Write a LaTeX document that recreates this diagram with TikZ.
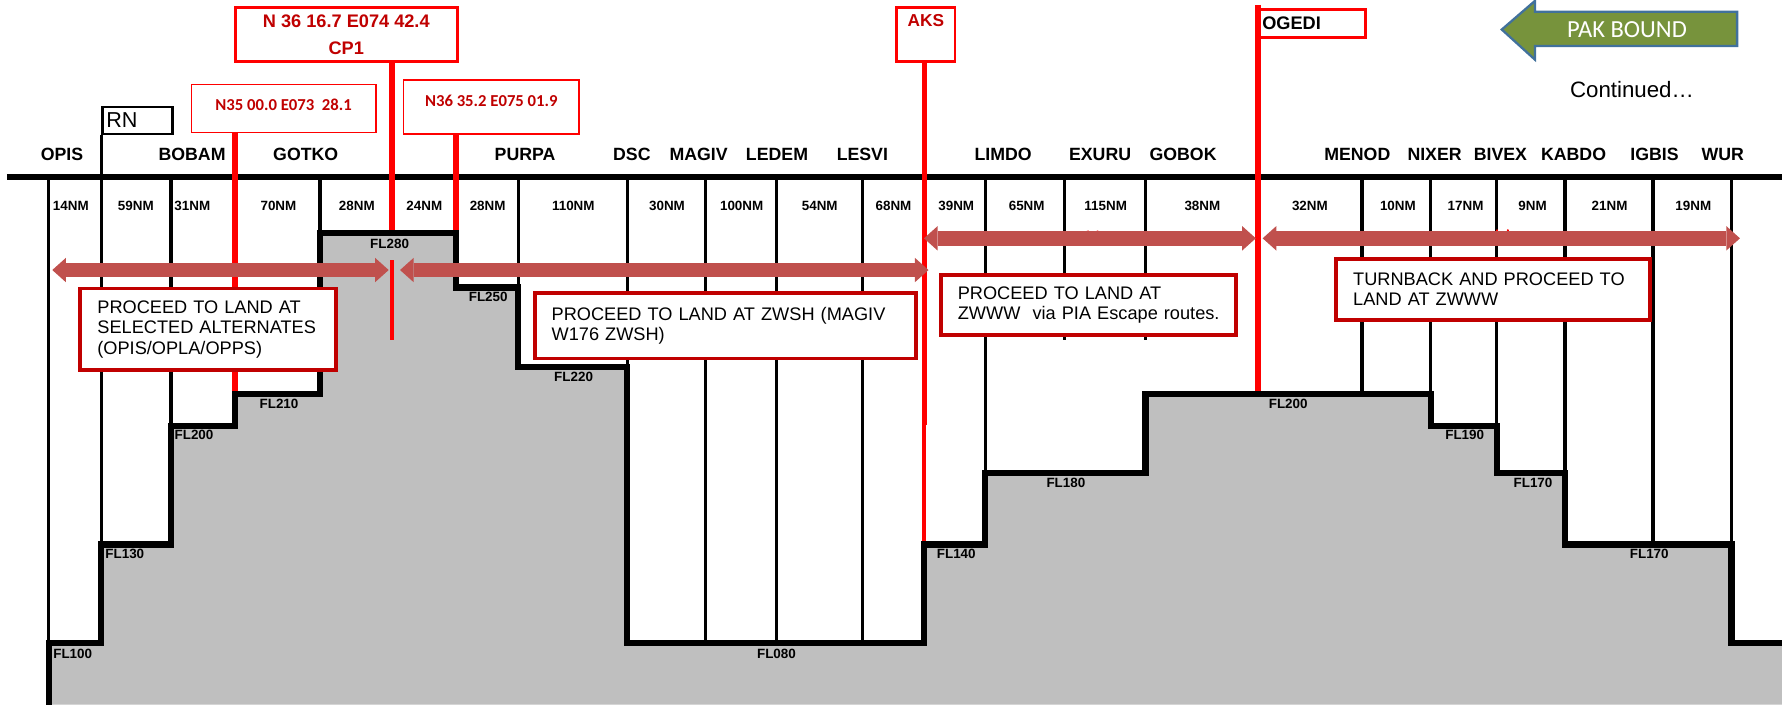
\documentclass[tikz,border=0pt]{standalone}
\usepackage{fontspec}
\setmainfont{Liberation Sans}
\newfontfamily\calibri{Carlito}
\usepackage{xcolor}
\usepackage{tikz}
\usetikzlibrary{arrows.meta}
\definecolor{terrain}{HTML}{BFBFBF}
\definecolor{routered}{HTML}{C0504D}
\definecolor{darkred}{HTML}{C00000}
\definecolor{pakgreen}{HTML}{77933C}
\definecolor{pakblue}{HTML}{41719C}
\tikzstyle{route} = [line width=6.5pt, color=routered, <->, >={Triangle[width=10.75pt,length=6pt,line width=0pt]}]

\begin{document}
\begin{tikzpicture}[x=0.5pt, y=-0.5pt]
    \tikzstyle{wpt} = [font=\fontsize{7.8}{9}\selectfont\bfseries]
    \tikzstyle{dist} = [font=\fontsize{5.9}{7}\selectfont\bfseries]
    \tikzstyle{fl} = [font=\fontsize{5.9}{7}\selectfont\bfseries]
    \tikzstyle{leg} = [line width=1.4pt]
    \tikzstyle{profile} = [line width=2.75pt, line join=miter]
    \tikzstyle{fix} = [red, line width=2.5pt]
    \tikzstyle{fixbox} = [rectangle, draw=red, line width=1.2pt, fill=white, text=darkred, align=center, font=\fontsize{8}{11.7}\selectfont\bfseries]
    \tikzstyle{msg} = [rectangle, draw=darkred, line width=1.7pt, fill=white, anchor=north west, align=left, inner xsep=7.5pt, font=\fontsize{8}{8.9}\selectfont]

    \useasboundingbox (0,0) rectangle (1568,620);

    \fill[terrain] (43,620) -- (43,566) -- (89,566) -- (89,479) -- (150.5,479) -- (150.5,375) -- (206.5,375) -- (206.5,347) -- (281.5,347) -- (281.5,205) -- (401,205) -- (401,253) -- (456,253) -- (456,323) -- (552,323) -- (552,566) -- (813,566) -- (813,479) -- (867,479) -- (867,416) -- (1008,416) -- (1008,347) -- (1259,347) -- (1259,375) -- (1317,375) -- (1317,416) -- (1377,416) -- (1377,479) -- (1523.5,479) -- (1523.5,566) -- (1568,566) -- (1568,620) -- cycle;

    \node[fixbox, minimum width=97.7pt, minimum height=23.9pt] (cp1box) at (304.7,30.4) {N 36 16.7 E074 42.4\\CP1};
    \node[fixbox, line width=0.7pt, font=\calibri\bfseries\fontsize{7.35}{9}\selectfont, minimum width=81.1pt, minimum height=21.25pt, text depth=3.1pt] (n35box) at (249.5,95.5) {N35 00.0 E073~ 28.1};
    \node[fixbox, line width=0.7pt, font=\calibri\bfseries\fontsize{7.35}{9}\selectfont, minimum width=77.1pt, minimum height=23.75pt, text depth=5.6pt] (n36box) at (432.3,94.2) {N36 35.2 E075 01.9};
    \node[fixbox, font=\fontsize{7.6}{9}\selectfont\bfseries, minimum width=25.6pt, minimum height=23.9pt, inner ysep=1pt, text depth=12.8pt] (aksbox) at (814.7,30.4) {AKS};
    \node[fixbox, text=black, align=left, anchor=north west, text width=44pt, inner xsep=1.35pt, inner ysep=0pt, minimum height=12.2pt] (ogedibox) at (1106.8,7.3) {OGEDI};
    \node[rectangle, draw, line width=1pt, anchor=north west, align=left, text width=27.4pt, inner xsep=1.7pt, inner ysep=0pt, minimum height=11.7pt, font=\fontsize{9.5}{10}\selectfont] (rn) at (89.2,93.3) {RN};

    \coordinate (bobamfix) at (206.5,347);
    \coordinate (cp1fix) at (345,205);
    \coordinate (purpafix) at (401,205);
    \coordinate (aksfix) at (813.4,479);
    \coordinate (ogedifix) at (1106.8,347);

    \draw[leg] (43,156) -- (43,566);
    \draw[leg] (rn.south west) -- (89.2,479);
    \draw[leg] (150.5,156) -- (150.5,375);
    \draw[leg] (281.5,156) -- (281.5,205);
    \draw[leg] (456,156) -- (456,253);
    \draw[leg] (552,156) -- (552,323);
    \draw[leg] (620.5,156) -- (620.5,566);
    \draw[leg] (683,156) -- (683,566);
    \draw[leg] (759,156) -- (759,566);
    \draw[leg] (867,156) -- (867,416);
    \draw[leg] (937,156) -- (937,299);
    \draw[leg] (1008,156) -- (1008,299);
    \draw[leg] (1198.5,156) -- (1198.5,347);
    \draw[leg] (1259,156) -- (1259,347);
    \draw[leg] (1317,156) -- (1317,375);
    \draw[leg] (1377,156) -- (1377,416);
    \draw[leg] (1454.5,156) -- (1454.5,479);
    \draw[leg] (1523.5,156) -- (1523.5,479);

    \draw[line width=2.6pt] (6,156) -- (1568,156);

    \draw[fix] (bobamfix |- n35box.south) -- (bobamfix);
    \draw[fix] (cp1fix |- cp1box.south) -- (cp1fix);
    \draw[fix] (purpafix |- n36box.south) -- (purpafix);
    \draw[fix] (aksfix |- aksbox.south) -- (813.4,374);
    \draw[red, line width=1.8pt] (813.4,374) -- (aksfix);
    \draw[fix] ([yshift=1.5pt]ogedibox.north west) -- (ogedifix);
    \draw[red, line width=1.7pt] (345,229) -- (345,299);
    \draw[red, line width=0.8pt] (957,203) -- (958,207) (966,203) -- (965,207);
    \draw[red, line width=0.8pt] (1317,202) -- (1318,206) (1327,202) -- (1326,206);

    \draw[profile] (43,620) -- (43,566) -- (89,566) -- (89,479) -- (150.5,479) -- (150.5,375) -- (206.5,375) -- (206.5,347) -- (281.5,347) -- (281.5,205) -- (401,205) -- (401,253) -- (456,253) -- (456,323) -- (552,323) -- (552,566) -- (813,566) -- (813,479) -- (867,479) -- (867,416) -- (1008,416) -- (1008,347) -- (1259,347) -- (1259,375) -- (1317,375) -- (1317,416) -- (1377,416) -- (1377,479) -- (1523.5,479) -- (1523.5,566) -- (1568,566);

    \coordinate (a1w) at (46,237.6);
    \coordinate (a1e) at (342,237.6);
    \coordinate (a2w) at (352,237.6);
    \coordinate (a2e) at (817,237.6);
    \coordinate (a3w) at (813,209.7);
    \coordinate (a3e) at (1105,209.7);
    \coordinate (a4w) at (1111,209.7);
    \coordinate (a4e) at (1531,209.7);
    \draw[route] (a1w) -- (a1e);
    \draw[route] (a2w) -- (a2e);
    \draw[route] (a3w) -- (a3e);
    \draw[route] (a4w) -- (a4e);

    \node[msg, text width=97.5pt, minimum height=36pt] (alternates) at (69,252.2) {PROCEED TO LAND AT\\SELECTED ALTERNATES\\(OPIS/OPLA/OPPS)};
    \node[msg, text width=152.8pt, minimum height=28.9pt] (zwsh) at (468.7,256) {PROCEED TO LAND AT ZWSH (MAGIV\\W176 ZWSH)};
    \node[msg, text width=114.7pt, minimum height=26.4pt] (zwww) at (826.1,240.5) {PROCEED TO LAND AT\\\mbox{ZWWW~ via PIA Escape routes.}};
    \node[msg, text width=123pt, minimum height=27pt] (turnback) at (1174,226) {TURNBACK AND PROCEED TO\\LAND AT ZWWW};

    \filldraw[fill=pakgreen, draw=pakblue, line width=1pt] (1321.4,26) -- (1350.6,0.8) -- (1350.6,10.3) -- (1528.5,10.3) -- (1528.5,40.5) -- (1350.6,40.5) -- (1350.6,52.5) -- cycle;
    \node[text=white, font=\calibri\fontsize{10.8}{12}\selectfont] (pakbound) at (1431.6,26.4) {PAK BOUND};
    \node[font=\fontsize{9.8}{11}\selectfont] (continued) at (1436,79.2) {Continued…};

    \node[wpt] (opis) at (54.5,136) {OPIS};
    \node[wpt] (bobam) at (169,136) {BOBAM};
    \node[wpt] (gotko) at (269,136) {GOTKO};
    \node[wpt] (purpa) at (462,136) {PURPA};
    \node[wpt] (dsc) at (556,136) {DSC};
    \node[wpt] (magiv) at (614.7,136) {MAGIV};
    \node[wpt] (ledem) at (683.7,136) {LEDEM};
    \node[wpt] (lesvi) at (758.8,136) {LESVI};
    \node[wpt] (limdo) at (882.7,136) {LIMDO};
    \node[wpt] (exuru) at (968,136) {EXURU};
    \node[wpt] (gobok) at (1041,136) {GOBOK};
    \node[wpt] (menod) at (1194.3,136) {MENOD};
    \node[wpt] (nixer) at (1262.3,136) {NIXER};
    \node[wpt] (bivex) at (1320.2,136) {BIVEX};
    \node[wpt] (kabdo) at (1384.6,136) {KABDO};
    \node[wpt] (igbis) at (1455.8,136) {IGBIS};
    \node[wpt] (wur) at (1515.8,136) {WUR};

    \node[dist] (seg1) at (62.3,181.5) {14NM};
    \node[dist] (seg2) at (119.5,181.5) {59NM};
    \node[dist] (seg3) at (169.2,181.5) {31NM};
    \node[dist] (seg4) at (245,181.5) {70NM};
    \node[dist] (seg5) at (314,181.5) {28NM};
    \node[dist] (seg6) at (373.4,181.5) {24NM};
    \node[dist] (seg7) at (429.1,181.5) {28NM};
    \node[dist] (seg8) at (504.5,181.5) {110NM};
    \node[dist] (seg9) at (586.9,181.5) {30NM};
    \node[dist] (seg10) at (652.6,181.5) {100NM};
    \node[dist] (seg11) at (721.3,181.5) {54NM};
    \node[dist] (seg12) at (786.2,181.5) {68NM};
    \node[dist] (seg13) at (841.4,181.5) {39NM};
    \node[dist] (seg14) at (903.4,181.5) {65NM};
    \node[dist] (seg15) at (972.9,181.5) {115NM};
    \node[dist] (seg16) at (1058,181.5) {38NM};
    \node[dist] (seg17) at (1152.6,181.5) {32NM};
    \node[dist] (seg18) at (1230,181.5) {10NM};
    \node[dist] (seg19) at (1289.6,181.5) {17NM};
    \node[dist] (seg20) at (1348.5,181.5) {9NM};
    \node[dist] (seg21) at (1416.3,181.5) {21NM};
    \node[dist] (seg22) at (1490,181.5) {19NM};

    \node[fl] (fl1) at (64,575.7) {FL100};
    \node[fl] (fl2) at (109.8,487.7) {FL130};
    \node[fl] (fl3) at (170.7,382.8) {FL200};
    \node[fl] (fl4) at (245.5,355.5) {FL210};
    \node[fl] (fl5) at (342.8,215) {FL280};
    \node[fl] (fl6) at (429.6,261.6) {FL250};
    \node[fl] (fl7) at (504.7,331.4) {FL220};
    \node[fl] (fl8) at (683.2,575.7) {FL080};
    \node[fl] (fl9) at (841.4,487.7) {FL140};
    \node[fl] (fl10) at (937.9,425.3) {FL180};
    \node[fl] (fl11) at (1133.5,355.5) {FL200};
    \node[fl] (fl12) at (1288.8,382.8) {FL190};
    \node[fl] (fl13) at (1348.9,425.3) {FL170};
    \node[fl] (fl14) at (1451.2,487.7) {FL170};
\end{tikzpicture}
\end{document}
